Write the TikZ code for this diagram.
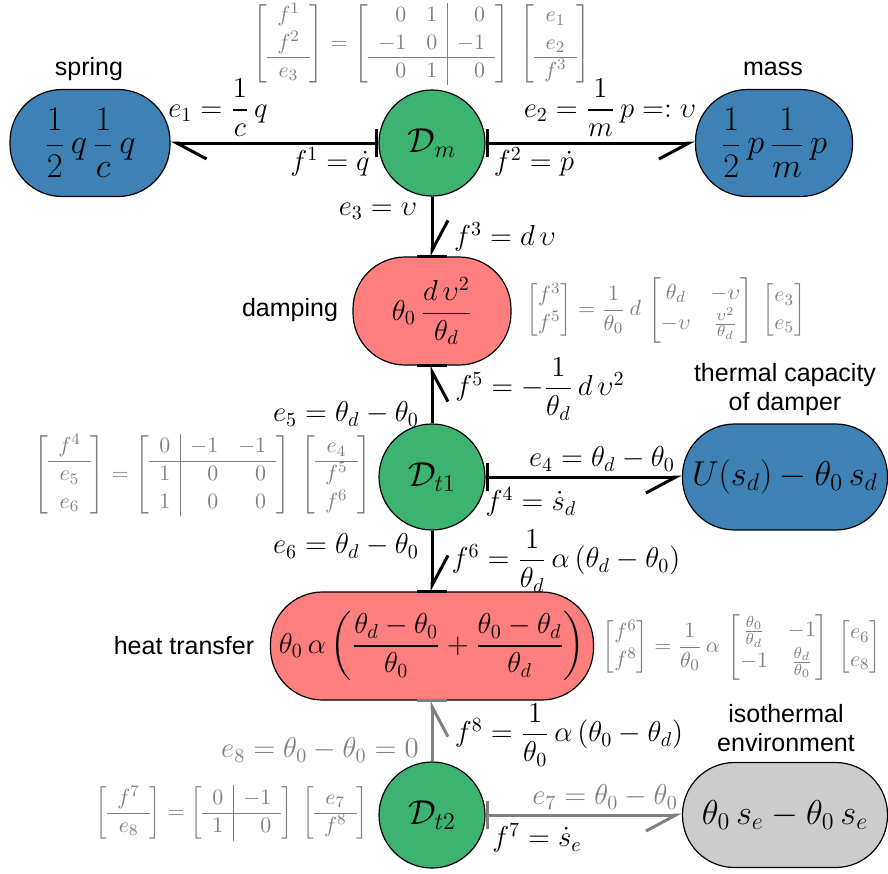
\documentclass[tikz,border=0pt]{standalone}
\usepackage{amsmath}
\usepackage{fontspec}
\newfontfamily\labelsans{Liberation Sans}
\usetikzlibrary{arrows.meta}
\definecolor{cblue}{RGB}{61,129,181}
\definecolor{cgreen}{RGB}{60,179,113}
\definecolor{cred}{RGB}{255,127,127}
\definecolor{cgrey}{RGB}{204,204,204}
\definecolor{ctext}{RGB}{128,128,128}
\begin{document}
\begin{tikzpicture}[x=0.5pt,y=-0.5pt,
  bond/.style={line width=1.5pt},
  gbond/.style={line width=1.5pt,draw=ctext},
  halfb/.tip={Straight Barb[harpoon,length=15pt,width=16pt]},
  halfbs/.tip={Straight Barb[harpoon,swap,length=15pt,width=16pt]},
  causbar/.tip={Bar[width=14pt]},
  store/.style={draw,line width=0.6pt,rounded corners=26pt,inner sep=0pt,font=\LARGE},
  rstore/.style={store,fill=cred,font=\Large},
  junction/.style={circle,draw,line width=0.6pt,fill=cgreen,minimum size=53pt,inner sep=0pt,font=\LARGE},
  lbl/.style={font=\Large,inner sep=0pt},
  glbl/.style={lbl,text=ctext},
  mat/.style={font=\fontsize{10.95}{13.6}\selectfont,text=ctext,inner sep=0pt},
  title/.style={font=\labelsans\fontsize{12.5}{14.5}\selectfont,align=center,inner sep=0pt}]
\useasboundingbox (0,0) rectangle (888,873);

% storage and resistive elements
\node[store,fill=cblue,minimum width=80pt,minimum height=53.5pt] (spring) at (90,143) {$\dfrac{1}{2}\,q\,\dfrac{1}{c}\,q$};
\node[store,fill=cblue,minimum width=78.5pt,minimum height=53.5pt] (mass) at (774,143) {$\dfrac{1}{2}\,p\,\dfrac{1}{m}\,p$};
\node[rstore,minimum width=79pt,minimum height=54pt] (damp) at (432,311) {$\theta_0\,\dfrac{d\,\upsilon^2}{\theta_d}$};
\node[store,fill=cblue,minimum width=102.5pt,minimum height=53pt] (thermal) at (785,477) {$U(s_d) - \theta_0\,s_d$};
\node[rstore,minimum width=161.5pt,minimum height=54pt] (heat) at (432,646) {$\theta_0\,\alpha\left(\dfrac{\theta_d-\theta_0}{\theta_0} + \dfrac{\theta_0-\theta_d}{\theta_d}\right)$};
\node[store,fill=cgrey,minimum width=102.5pt,minimum height=52.5pt] (env) at (785,815) {$\theta_0\,s_e - \theta_0\,s_e$};

% junctions
\node[junction] (Dm) at (432,143) {$\mathcal{D}_m$};
\node[junction] (Dt1) at (432,477) {$\mathcal{D}_{t1}$};
\node[junction] (Dt2) at (432,815) {$\mathcal{D}_{t2}$};

% titles
\node[title] (tspring) at (89,69) {spring};
\node[title] (tmass) at (773,69) {mass};
\node[title] (tdamp) at (290,310) {damping};
\node[title] (ttherm) at (785,390) {thermal capacity\\of damper};
\node[title] (theat) at (184,646) {heat transfer};
\node[title] (tenv) at (786,728) {isothermal\\environment};

% bonds
\draw[bond,{causbar}-{halfb}] (Dm) -- (spring);
\draw[bond,{causbar}-{halfbs}] (Dm) -- (mass);
\draw[bond,-{halfb}] (Dm) -- (damp);
\draw[bond] ([xshift=-7.5pt]damp.north) -- ([xshift=7.5pt]damp.north);
\draw[bond,-{halfbs}] (Dt1) -- (damp);
\draw[bond] ([xshift=-7.5pt]damp.south) -- ([xshift=7.5pt]damp.south);
\draw[bond,{causbar}-{halfbs}] (Dt1) -- (thermal);
\draw[bond,-{halfb}] (Dt1) -- (heat);
\draw[bond] ([xshift=-7.5pt]heat.north) -- ([xshift=7.5pt]heat.north);
\draw[gbond,-{halfbs}] (Dt2) -- (heat);
\draw[gbond] ([xshift=-7.5pt]heat.south) -- ([xshift=7.5pt]heat.south);
\draw[gbond,{causbar}-{halfbs}] (Dt2) -- (env);

% bond labels
\node[lbl] (le1) at (218,108) {$e_1 = \dfrac{1}{c}\,q$};
\node[lbl] (lf1) at (330,162) {$f^1 = \dot{q}$};
\node[lbl] (le2) at (610,108) {$e_2 = \dfrac{1}{m}\,p =: \upsilon$};
\node[lbl] (lf2) at (534,162) {$f^2 = \dot{p}$};
\node[lbl] (le3) at (378,211) {$e_3 = \upsilon$};
\node[lbl] (lf3) at (505,237) {$f^3 = d\,\upsilon$};
\node[lbl] (lf5) at (540,389) {$f^5 = -\dfrac{1}{\theta_d}\,d\,\upsilon^2$};
\node[lbl] (le5) at (346,414) {$e_5 = \theta_d - \theta_0$};
\node[lbl] (le4) at (602,459) {$e_4 = \theta_d - \theta_0$};
\node[lbl] (lf4) at (531,502) {$f^4 = \dot{s}_d$};
\node[lbl] (le6) at (346,546) {$e_6 = \theta_d - \theta_0$};
\node[lbl] (lf6) at (566,561) {$f^6 = \dfrac{1}{\theta_d}\,\alpha\,(\theta_d - \theta_0)$};
\node[glbl] (le8) at (320,750) {$e_8 = \theta_0 - \theta_0 = 0$};
\node[lbl] (lf8) at (569,735) {$f^8 = \dfrac{1}{\theta_0}\,\alpha\,(\theta_0 - \theta_d)$};
\node[glbl] (le7) at (605,797) {$e_7 = \theta_0 - \theta_0$};
\node[lbl] (lf7) at (537,838) {$f^7 = \dot{s}_e$};

% structure matrices
\node[mat] (mtop) at (422,44) {$\left[\begin{array}{c} f^1\\ f^2\\ \hline e_3 \end{array}\right] = \left[\begin{array}{rr|r} 0 & 1 & 0\\ -1 & 0 & -1\\ \hline 0 & 1 & 0\end{array}\right]\;\left[\begin{array}{c} e_1\\ e_2\\ \hline f^3\end{array}\right]$};
\node[mat] (mdamp) at (666,310) {$\begin{bmatrix} f^3\\ f^5\end{bmatrix} = \dfrac{1}{\theta_0}\,d\,\begin{bmatrix}\theta_d & -\upsilon\\ -\upsilon & \frac{\upsilon^2}{\theta_d}\end{bmatrix}\;\begin{bmatrix} e_3\\ e_5\end{bmatrix}$};
\node[mat] (mdt1) at (203,475) {$\left[\begin{array}{c} f^4\\ \hline e_5\\ e_6\end{array}\right] = \left[\begin{array}{c|rr} 0 & -1 & -1\\ \hline 1 & 0 & 0\\ 1 & 0 & 0\end{array}\right]\;\left[\begin{array}{c} e_4\\ \hline f^5\\ f^6\end{array}\right]$};
\node[mat] (mheat) at (742,647) {$\begin{bmatrix} f^6\\ f^8\end{bmatrix} = \dfrac{1}{\theta_0}\,\alpha\,\begin{bmatrix}\frac{\theta_0}{\theta_d} & -1\\ -1 & \frac{\theta_d}{\theta_0}\end{bmatrix}\;\begin{bmatrix} e_6\\ e_8\end{bmatrix}$};
\node[mat] (mdt2) at (232,813) {$\left[\begin{array}{c} f^7\\ \hline e_8\end{array}\right] = \left[\begin{array}{c|r} 0 & -1\\ \hline 1 & 0\end{array}\right]\;\left[\begin{array}{c} e_7\\ \hline f^8\end{array}\right]$};
\end{tikzpicture}
\end{document}
